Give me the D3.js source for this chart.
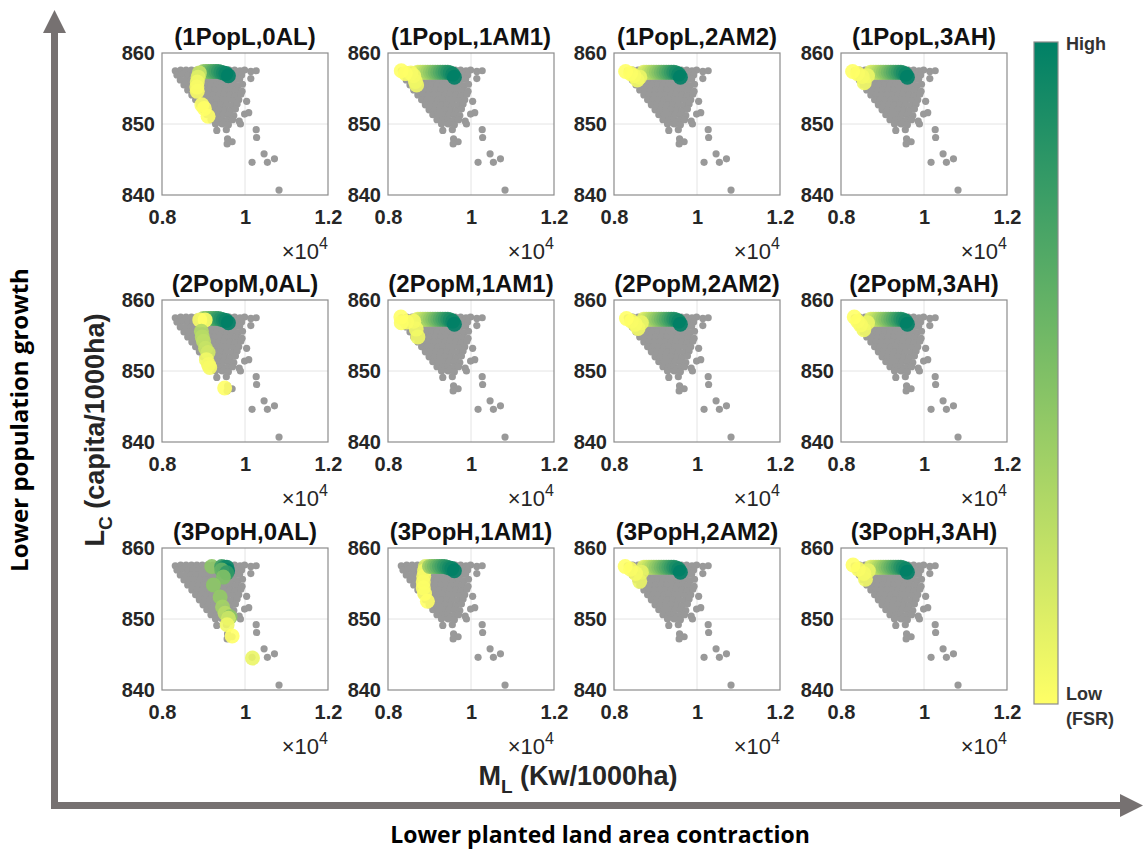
<!DOCTYPE html>
<html>
<head>
<meta charset="utf-8">
<script src="https://cdn.jsdelivr.net/npm/d3@7"></script>
<style>
  body { margin: 0; background: #fff; }
  text { font-family: "Liberation Sans", Arial, sans-serif; }
</style>
</head>
<body>
<svg id="chart" width="1143" height="850"></svg>
<script>
// panel titles, row by row
var rowNames = ["1PopL", "2PopM", "3PopH"];
var colNames = ["0AL", "1AM1", "2AM2", "3AH"];

var xTicks = [0.8, 1, 1.2];
var yTicks = [840, 850, 860];

// grey cloud of all candidate solutions (x in 10^4 Kw/1000ha, y in capita/1000ha)
var cloud = [
  [0.832,857.5],[0.845,857.6],[0.858,857.6],[0.871,857.6],[0.884,857.6],[0.897,857.6],[0.910,857.6],[0.923,857.6],[0.936,857.6],[0.949,857.6],[0.962,857.6],[0.975,857.6],[0.988,857.5],[0.999,857.6],
  [0.836,856.9],[0.849,857.0],[0.862,856.9],[0.875,856.9],[0.888,856.9],[0.901,856.9],[0.914,856.9],[0.927,856.9],[0.940,856.9],[0.953,856.9],[0.966,856.9],[0.979,857.0],[0.992,856.9],
  [0.844,856.2],[0.857,856.2],[0.870,856.2],[0.883,856.2],[0.896,856.2],[0.909,856.2],[0.922,856.2],[0.935,856.2],[0.948,856.2],[0.961,856.2],[0.974,856.2],[0.987,856.3],
  [0.853,855.5],[0.866,855.5],[0.879,855.5],[0.892,855.5],[0.905,855.5],[0.918,855.5],[0.931,855.5],[0.944,855.5],[0.957,855.5],[0.970,855.5],[0.983,855.4],[0.994,855.6],
  [0.862,854.8],[0.875,854.8],[0.888,854.8],[0.901,854.8],[0.914,854.8],[0.927,854.8],[0.940,854.8],[0.953,854.8],[0.966,854.8],[0.979,854.7],[0.993,854.6],
  [0.872,854.1],[0.885,854.1],[0.898,854.1],[0.911,854.1],[0.924,854.1],[0.937,854.1],[0.950,854.1],[0.963,854.1],[0.976,854.0],[0.990,854.2],
  [0.881,853.4],[0.894,853.4],[0.907,853.4],[0.920,853.4],[0.933,853.4],[0.946,853.4],[0.959,853.4],[0.972,853.3],[0.985,853.4],[1.004,853.2],
  [0.890,852.7],[0.903,852.7],[0.916,852.7],[0.929,852.7],[0.942,852.7],[0.955,852.7],[0.968,852.6],[0.981,852.8],
  [0.899,852.0],[0.912,852.0],[0.925,852.0],[0.938,852.0],[0.951,852.0],[0.964,851.9],[0.977,852.1],
  [0.908,851.3],[0.921,851.3],[0.934,851.3],[0.947,851.3],[0.960,851.3],[0.973,851.2],[0.999,851.4],[1.009,851.6],
  [0.918,850.6],[0.931,850.6],[0.944,850.6],[0.957,850.5],[0.970,850.6],[0.986,850.4],
  [0.929,850.0],[0.945,850.0],[0.960,849.9],[0.989,850.0],
  [1.014,857.4],[1.027,857.5],[1.014,856.4],[0.932,849.1],[0.955,849.2],[0.958,847.9],[0.969,847.5],[0.957,847.2],
  [1.027,849.2],[1.028,848.1],[1.046,845.8],[1.017,844.6],[1.054,844.6],[1.071,845.1],[1.082,840.7]
];

// coloured (FSR) points: [x, y, fsr 0 = low .. 1 = high]
var longBand = [
  [0.872,857.3,0.12],[0.878,857.3,0.18],[0.884,857.3,0.24],[0.890,857.3,0.30],[0.896,857.3,0.36],[0.902,857.3,0.42],
  [0.908,857.3,0.48],[0.914,857.3,0.54],[0.920,857.3,0.60],[0.926,857.3,0.66],[0.932,857.3,0.72],[0.938,857.3,0.78],
  [0.944,857.3,0.84],[0.950,857.2,0.90],[0.956,857.0,0.95],[0.960,856.6,1.00]
];
var shortBand = [
  [0.900,857.4,0.40],[0.906,857.4,0.47],[0.912,857.4,0.54],[0.918,857.4,0.61],[0.924,857.4,0.68],[0.930,857.4,0.74],
  [0.936,857.4,0.80],[0.942,857.3,0.86],[0.948,857.2,0.91],[0.954,857.1,0.96],[0.960,856.8,1.00]
];

var popL_0AL = [[0.890,857.2,0.22],[0.887,856.6,0.12],[0.885,855.9,0.06],[0.884,855.2,0.03],[0.885,854.6,0.02],[0.896,852.7,0.01],[0.902,852.2,0.0],[0.911,851.1,0.0]];
var popL_1AM1 = [[0.866,856.0,0.05],[0.869,855.5,0.06],[0.862,856.8,0.04],[0.855,857.2,0.03],[0.842,857.1,0.01],[0.832,857.5,0.0]];
var popL_2AM2 = [[0.862,856.6,0.08],[0.856,856.2,0.05],[0.848,856.8,0.03],[0.840,857.1,0.01],[0.828,857.4,0.0]];
var popL_3AH = [[0.864,856.8,0.08],[0.856,855.8,0.05],[0.851,856.7,0.04],[0.840,857.1,0.02],[0.828,857.4,0.0]];

var popM_0AL = [[0.891,857.2,0.02],[0.904,857.2,0.0],[0.895,855.6,0.30],[0.897,854.8,0.28],[0.900,854.2,0.25],[0.905,853.2,0.22],[0.911,852.6,0.18],[0.907,851.6,0.05],[0.912,850.9,0.04],[0.915,850.5,0.03],[0.951,847.6,0.0]];
var popM_1AM1 = [[0.872,854.8,0.06],[0.868,855.9,0.05],[0.862,857.0,0.04],[0.845,856.9,0.02],[0.832,856.8,0.01],[0.831,857.6,0.0]];
var popM_2AM2 = [[0.866,856.8,0.08],[0.858,856.0,0.05],[0.851,856.6,0.03],[0.842,857.0,0.02],[0.830,857.4,0.0]];
var popM_3AH = [[0.864,856.8,0.08],[0.855,855.8,0.05],[0.847,856.5,0.03],[0.840,857.0,0.02],[0.832,857.6,0.0]];

var popH_0AL = [[0.920,857.4,0.45],[0.944,857.4,0.75],[0.950,857.3,0.85],[0.956,857.3,0.95],[0.958,856.8,1.0],[0.944,856.9,0.6],[0.956,856.5,0.8],
  [0.948,855.9,0.5],[0.924,854.8,0.45],[0.940,853.1,0.42],[0.946,851.7,0.36],[0.952,850.8,0.28],[0.964,850.3,0.45],[0.960,850.1,0.2],
  [0.957,849.2,0.06],[0.969,847.6,0.0],[1.018,844.5,0.08]];
var popH_1AM1 = [[0.890,857.4,0.15],[0.888,856.8,0.06],[0.886,856.0,0.03],[0.885,855.2,0.02],[0.885,854.4,0.01],[0.888,853.6,0.01],[0.895,852.5,0.0]];
var popH_2AM2 = [[0.866,856.6,0.1],[0.862,855.3,0.08],[0.852,856.4,0.04],[0.840,857.0,0.02],[0.827,857.4,0.0]];
var popH_3AH = [[0.866,856.8,0.09],[0.859,855.6,0.06],[0.855,856.4,0.04],[0.842,857.0,0.02],[0.829,857.6,0.0]];

var panelPoints = [
  [shortBand.concat(popL_0AL), longBand.concat(popL_1AM1), longBand.concat(popL_2AM2), longBand.concat(popL_3AH)],
  [shortBand.concat(popM_0AL), longBand.concat(popM_1AM1), longBand.concat(popM_2AM2), longBand.concat(popM_3AH)],
  [popH_0AL, popH_1AM1.concat(shortBand), longBand.concat(popH_2AM2), longBand.concat(popH_3AH)]
];

// layout
var colLeft = [162, 388, 614, 841];
var rowTop = [53, 300, 548];
var pw = 166, ph = 142;
var arrowCol = "#767171";
var textCol = "#262626";

var svg = d3.select("#chart");

// summer colormap: low = yellow, high = green
var color = d3.scaleLinear().domain([0, 1]).range(["#ffff66", "#008066"]);

var x = d3.scaleLinear().domain([0.8, 1.2]).range([0, pw]);
var y = d3.scaleLinear().domain([840, 860]).range([ph, 0]);

rowNames.forEach(function(rn, r) {
  colNames.forEach(function(cn, c) {
    var g = svg.append("g").attr("transform", "translate(" + colLeft[c] + "," + rowTop[r] + ")");

    // grid
    g.append("line").attr("x1", x(1)).attr("x2", x(1)).attr("y1", 0).attr("y2", ph)
      .attr("stroke", "#e4e4e4").attr("stroke-width", 1);
    g.append("line").attr("x1", 0).attr("x2", pw).attr("y1", y(850)).attr("y2", y(850))
      .attr("stroke", "#e4e4e4").attr("stroke-width", 1);

    g.append("g").selectAll("circle").data(cloud).enter().append("circle")
      .attr("cx", function(d) { return x(d[0]); })
      .attr("cy", function(d) { return y(d[1]); })
      .attr("r", 3.6)
      .attr("fill", "#999999");

    g.append("g").selectAll("circle").data(panelPoints[r][c]).enter().append("circle")
      .attr("cx", function(d) { return x(d[0]); })
      .attr("cy", function(d) { return y(d[1]); })
      .attr("r", 7.5)
      .attr("fill", function(d) { return color(d[2]); })
      .attr("fill-opacity", 0.9);

    g.append("rect").attr("width", pw).attr("height", ph)
      .attr("fill", "none").attr("stroke", "#8c8c8c").attr("stroke-width", 1.2);

    var ya = g.append("g").call(d3.axisLeft(y).tickValues(yTicks).tickSize(0).tickPadding(7));
    var xa = g.append("g").attr("transform", "translate(0," + ph + ")")
      .call(d3.axisBottom(x).tickValues(xTicks).tickSize(0).tickPadding(15).tickFormat(d3.format("~g")));
    [ya, xa].forEach(function(a) {
      a.select(".domain").remove();
      a.selectAll("text").attr("font-size", 20).attr("font-weight", "bold")
        .attr("fill", textCol).style("font-family", "'Liberation Sans', Arial, sans-serif");
    });

    g.append("text").attr("x", pw / 2).attr("y", -8)
      .attr("text-anchor", "middle").attr("font-size", 24).attr("font-weight", "bold").attr("fill", "#111")
      .text("(" + rn + "," + cn + ")");

    var ex = g.append("text").attr("x", pw).attr("y", ph + 64)
      .attr("text-anchor", "end").attr("font-size", 22).attr("fill", textCol);
    ex.append("tspan").text("\u00d710");
    ex.append("tspan").attr("dy", -10).attr("font-size", 16).text("4");
  });
});

// axis titles
var yl = svg.append("text").attr("transform", "translate(104,430) rotate(-90)")
  .attr("text-anchor", "middle").attr("font-size", 27).attr("font-weight", "bold").attr("fill", textCol);
yl.append("tspan").text("L");
yl.append("tspan").attr("dy", 8).attr("font-size", 19).text("C");
yl.append("tspan").attr("dy", -8).text(" (capita/1000ha)");

var xl = svg.append("text").attr("x", 578).attr("y", 785)
  .attr("text-anchor", "middle").attr("font-size", 27).attr("font-weight", "bold").attr("fill", textCol);
xl.append("tspan").text("M");
xl.append("tspan").attr("dy", 8).attr("font-size", 19).text("L");
xl.append("tspan").attr("dy", -8).text(" (Kw/1000ha)");

// big direction arrows
svg.append("rect").attr("x", 51).attr("y", 32).attr("width", 7).attr("height", 777).attr("fill", arrowCol);
svg.append("path").attr("d", "M43,33 L54.5,10 L66,33 Z").attr("fill", arrowCol);
svg.append("rect").attr("x", 51).attr("y", 802).attr("width", 1071).attr("height", 7).attr("fill", arrowCol);
svg.append("path").attr("d", "M1120,794 L1143,805.5 L1120,817 Z").attr("fill", arrowCol);

svg.append("text").attr("transform", "translate(28,420) rotate(-90)")
  .attr("text-anchor", "middle").attr("font-size", 24).attr("font-weight", "bold")
  .style("font-family", "'Open Sans', sans-serif").attr("fill", "#000")
  .text("Lower population growth");
svg.append("text").attr("x", 600).attr("y", 843)
  .attr("text-anchor", "middle").attr("font-size", 23).attr("font-weight", "bold")
  .style("font-family", "'Open Sans', sans-serif").attr("fill", "#000")
  .text("Lower planted land area contraction");

// colour bar
var grad = svg.append("defs").append("linearGradient").attr("id", "cb")
  .attr("x1", 0).attr("y1", 0).attr("x2", 0).attr("y2", 1);
grad.append("stop").attr("offset", "0%").attr("stop-color", color(1));
grad.append("stop").attr("offset", "100%").attr("stop-color", color(0));
svg.append("rect").attr("x", 1034).attr("y", 42).attr("width", 24).attr("height", 662)
  .attr("fill", "url(#cb)").attr("stroke", "#8c8c8c").attr("stroke-width", 1.2);
svg.append("text").attr("x", 1066).attr("y", 50).attr("font-size", 18).attr("font-weight", "bold")
  .attr("fill", "#333").text("High");
svg.append("text").attr("x", 1066).attr("y", 700).attr("font-size", 18).attr("font-weight", "bold")
  .attr("fill", "#333").text("Low");
svg.append("text").attr("x", 1066).attr("y", 725).attr("font-size", 18).attr("font-weight", "bold")
  .attr("fill", "#333").text("(FSR)");
</script>
</body>
</html>
